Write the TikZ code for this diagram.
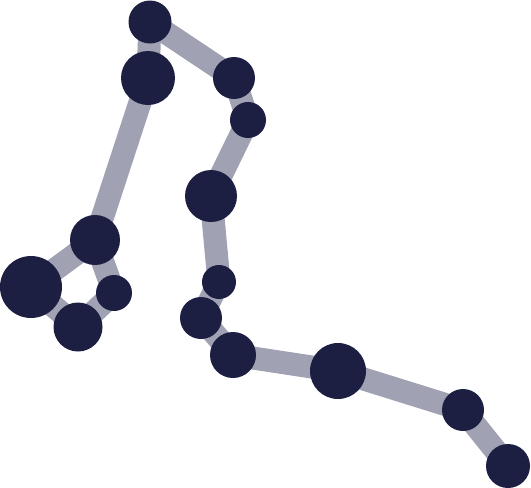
\documentclass[tikz,border=0pt]{standalone}
\usepackage{tikz}
\usetikzlibrary{backgrounds}
\definecolor{starnavy}{HTML}{1C1E42}
\definecolor{linkgray}{HTML}{A0A1B3}

\begin{document}
\begin{tikzpicture}[x=1pt, y=-1pt,
    star/.style={circle, fill=starnavy, inner sep=0pt, minimum size=#1},
    link/.style={draw=linkgray, line width=23pt}]
    \useasboundingbox (0,0) rectangle (531,488);
    % Stars: name / x / y / diameter
    \foreach \n/\x/\y/\d in {s1/150/22/43, s2/148/78/54, s3/234/78/42, s4/248/120/36,
        s5/211/196/52, s6/219/282/34, s7/201/318/42, s8/233/355/46,
        s9/338/371/56, s10/463/410/42, s11/508/466/44,
        s12/95/240/50, s13/31/287/62, s14/78/327/49, s15/114/293/36}
        \node[star=\d pt] (\n) at (\x,\y) {};
    
    % Links between the stars, behind them
    \begin{scope}[on background layer]
        \foreach \a/\b in {s1/s2, s1/s3, s3/s4, s4/s5, s5/s6, s6/s7, s7/s8,
            s8/s9, s9/s10, s10/s11, s2/s12, s12/s13, s13/s14, s14/s15, s15/s12}
            \draw[link] (\a.center) -- (\b.center);
    \end{scope}
\end{tikzpicture}
\end{document}
